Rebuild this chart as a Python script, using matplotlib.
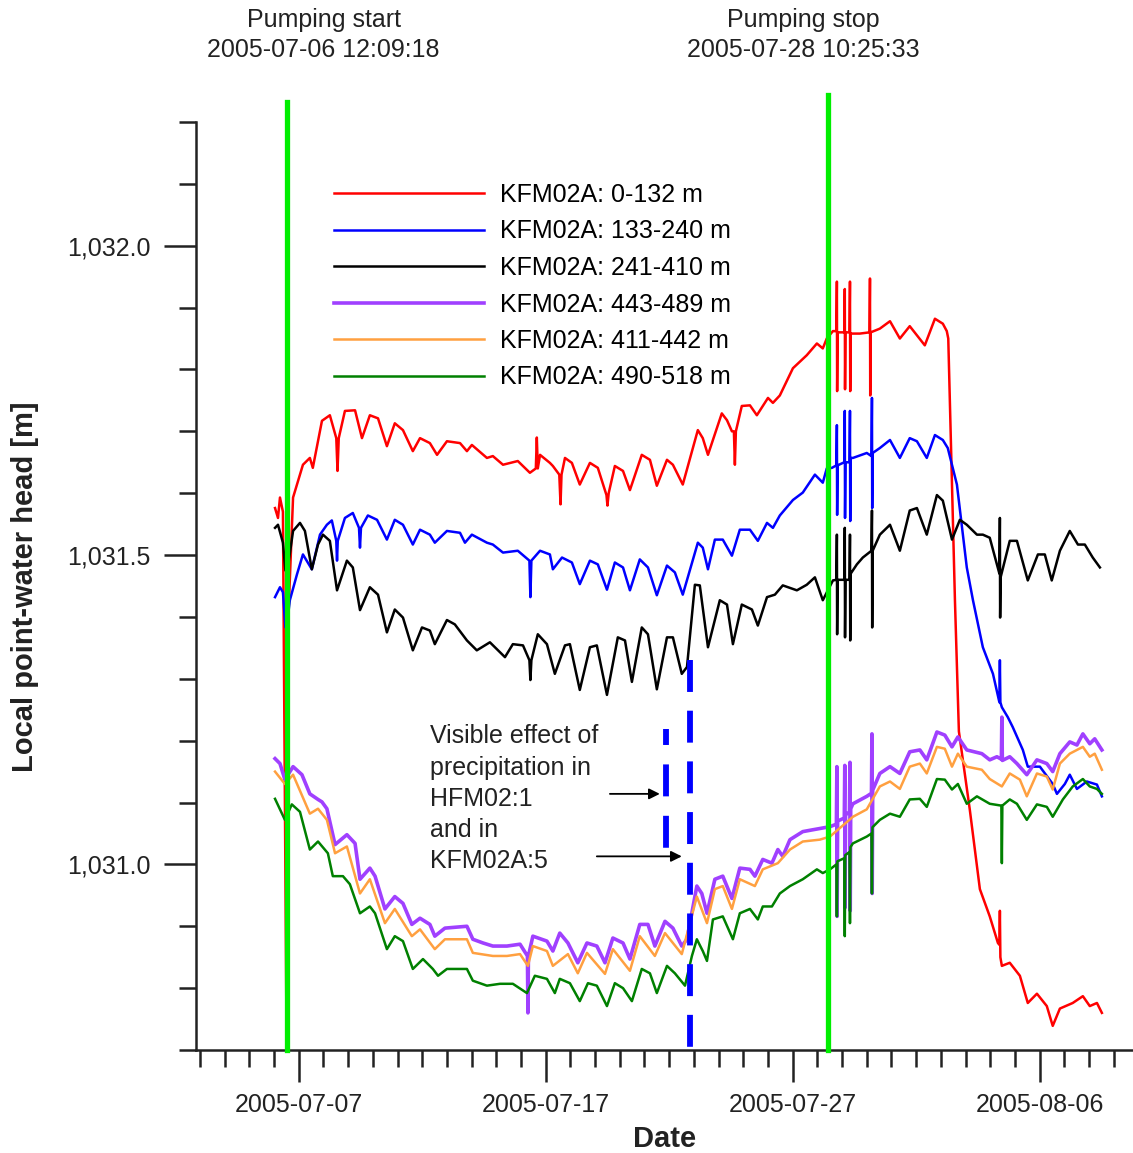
import numpy as np
import matplotlib.pyplot as plt
import matplotlib.dates as mdates
from matplotlib.ticker import MultipleLocator, FuncFormatter

plt.rcParams['font.family'] = ['Liberation Sans', 'DejaVu Sans']
plt.rcParams['lines.scale_dashes'] = False

# time axis: days after 2005-07-03 00:00
t0 = np.datetime64('2005-07-03T00:00:00')

pump_start = np.datetime64('2005-07-06T12:09:18')
pump_stop = np.datetime64('2005-07-28T10:25:33')
rain_hfm = np.datetime64('2005-07-21T20:50')   # HFM02:1
rain_kfm = np.datetime64('2005-07-22T20:10')   # KFM02A:5

labels = ["KFM02A: 0-132 m", "KFM02A: 133-240 m", "KFM02A: 241-410 m",
          "KFM02A: 443-489 m", "KFM02A: 411-442 m", "KFM02A: 490-518 m"]
colors = ["#ff0000", "#0000ff", "#000000", "#a040ff", "#ffa040", "#008000"]
widths = [1.8, 1.8, 1.8, 2.6, 1.8, 1.8]

# KFM02A: 0-132 m
red_days = [3.04, 3.16, 3.24, 3.36, 3.50, 3.58, 3.77, 4.17, 4.45, 4.57, 4.94, 5.26, 5.52, 5.57, 5.62,
            5.87, 6.28, 6.56, 6.88, 7.21, 7.57, 7.89, 8.22, 8.62, 8.91, 9.31, 9.60, 10.00, 10.53,
            10.81, 11.01, 11.62, 11.86, 12.27, 12.87, 13.36, 13.60, 13.64, 13.68, 13.77, 14.17,
            14.29, 14.55, 14.60, 14.64, 14.78, 15.06, 15.38, 15.79, 16.11, 16.46, 16.50, 16.55,
            16.80, 17.13, 17.41, 17.89, 18.22, 18.50, 18.91, 19.15, 19.55, 20.16, 20.36, 20.57,
            21.13, 21.34, 21.54, 21.62, 21.66, 21.70, 21.94, 22.27, 22.55, 23.00, 23.20, 23.48,
            24.01, 24.57, 24.98, 25.22, 25.38, 25.63, 25.77, 25.79, 25.80, 25.82, 26.09, 26.11,
            26.12, 26.14, 26.30, 26.32, 26.33, 26.35, 26.72, 27.11, 27.13, 27.14, 27.16, 27.53,
            27.94, 28.34, 28.74, 29.35, 29.76, 30.08, 30.24, 30.30, 30.57, 30.73, 31.17, 31.58,
            31.98, 32.31, 32.37, 32.39, 32.41, 32.47, 32.79, 33.20, 33.52, 33.89, 34.29, 34.53,
            34.82, 35.34, 35.75, 36.03, 36.32, 36.52]
red_head = [1031.576, 1031.560, 1031.593, 1031.570, 1030.750, 1031.400, 1031.593, 1031.646, 1031.657,
            1031.641, 1031.717, 1031.726, 1031.689, 1031.636, 1031.689, 1031.733, 1031.734, 1031.689,
            1031.726, 1031.721, 1031.676, 1031.713, 1031.702, 1031.668, 1031.689, 1031.681, 1031.662,
            1031.684, 1031.681, 1031.668, 1031.678, 1031.657, 1031.660, 1031.646, 1031.652, 1031.633,
            1031.640, 1031.690, 1031.640, 1031.662, 1031.649, 1031.644, 1031.630, 1031.582, 1031.630,
            1031.657, 1031.649, 1031.614, 1031.649, 1031.641, 1031.597, 1031.580, 1031.600, 1031.644,
            1031.636, 1031.605, 1031.662, 1031.654, 1031.612, 1031.654, 1031.646, 1031.614, 1031.702,
            1031.689, 1031.662, 1031.729, 1031.718, 1031.700, 1031.700, 1031.646, 1031.700, 1031.741,
            1031.742, 1031.726, 1031.754, 1031.746, 1031.758, 1031.802, 1031.823, 1031.842, 1031.834,
            1031.850, 1031.862, 1031.862, 1031.942, 1031.765, 1031.860, 1031.860, 1031.930, 1031.768,
            1031.860, 1031.860, 1031.942, 1031.765, 1031.858, 1031.858, 1031.860, 1031.947, 1031.758,
            1031.860, 1031.866, 1031.878, 1031.850, 1031.870, 1031.839, 1031.882, 1031.874, 1031.862,
            1031.850, 1031.427, 1031.215, 1031.089, 1030.960, 1030.916, 1030.873, 1030.870, 1030.925,
            1030.850, 1030.836, 1030.841, 1030.820, 1030.776, 1030.791, 1030.771, 1030.739, 1030.767,
            1030.776, 1030.787, 1030.771, 1030.776, 1030.760]

# KFM02A: 133-240 m
blue_days = [3.04, 3.24, 3.36, 3.46, 3.56, 3.64, 3.93, 4.17, 4.53, 4.86, 5.14, 5.34, 5.52, 5.55, 5.58,
             5.87, 6.19, 6.44, 6.48, 6.52, 6.80, 7.17, 7.57, 7.89, 8.22, 8.62, 8.91, 9.31, 9.51,
             10.00, 10.53, 10.73, 11.01, 11.62, 11.86, 12.27, 12.87, 13.34, 13.38, 13.42, 13.77,
             14.17, 14.29, 14.66, 15.06, 15.38, 15.79, 16.11, 16.48, 16.80, 17.13, 17.41, 17.81,
             18.14, 18.50, 18.91, 19.23, 19.55, 20.16, 20.36, 20.57, 20.85, 21.17, 21.54, 21.86,
             22.27, 22.59, 22.96, 23.20, 23.48, 24.01, 24.41, 24.90, 25.22, 25.38, 25.59, 25.77,
             25.79, 25.80, 25.82, 26.09, 26.11, 26.12, 26.14, 26.30, 26.32, 26.33, 26.35, 26.44,
             27.00, 27.19, 27.21, 27.22, 27.24, 27.53, 27.94, 28.34, 28.74, 29.03, 29.43, 29.76,
             30.08, 30.28, 30.65, 31.05, 31.30, 31.70, 32.11, 32.37, 32.39, 32.41, 32.47, 32.71,
             32.91, 33.32, 33.52, 34.01, 34.53, 34.70, 35.02, 35.22, 35.51, 35.91, 36.32, 36.52]
blue_head = [1031.432, 1031.448, 1031.440, 1031.383, 1031.400, 1031.427, 1031.469, 1031.501, 1031.477,
             1031.533, 1031.549, 1031.556, 1031.523, 1031.491, 1031.523, 1031.560, 1031.568, 1031.544,
             1031.512, 1031.544, 1031.564, 1031.557, 1031.525, 1031.557, 1031.549, 1031.517, 1031.541,
             1031.533, 1031.520, 1031.539, 1031.536, 1031.520, 1031.533, 1031.520, 1031.517, 1031.504,
             1031.507, 1031.491, 1031.432, 1031.491, 1031.507, 1031.501, 1031.477, 1031.496, 1031.488,
             1031.453, 1031.491, 1031.485, 1031.444, 1031.488, 1031.480, 1031.443, 1031.493, 1031.480,
             1031.435, 1031.483, 1031.472, 1031.436, 1031.520, 1031.512, 1031.477, 1031.525, 1031.525,
             1031.499, 1031.541, 1031.541, 1031.523, 1031.552, 1031.544, 1031.564, 1031.589, 1031.601,
             1031.630, 1031.617, 1031.640, 1031.641, 1031.645, 1031.710, 1031.565, 1031.645, 1031.650,
             1031.733, 1031.560, 1031.650, 1031.650, 1031.733, 1031.555, 1031.657, 1031.657, 1031.665,
             1031.660, 1031.754, 1031.576, 1031.665, 1031.673, 1031.686, 1031.657, 1031.689, 1031.684,
             1031.657, 1031.694, 1031.686, 1031.673, 1031.614, 1031.480, 1031.427, 1031.351, 1031.308,
             1031.262, 1031.330, 1031.262, 1031.254, 1031.238, 1031.222, 1031.185, 1031.158, 1031.158,
             1031.130, 1031.114, 1031.130, 1031.145, 1031.122, 1031.134, 1031.129, 1031.110]

# KFM02A: 241-410 m
black_days = [3.04, 3.16, 3.36, 3.46, 3.56, 3.77, 4.05, 4.25, 4.53, 4.78, 4.98, 5.26, 5.55, 5.95, 6.19,
              6.48, 6.88, 7.21, 7.57, 7.89, 8.22, 8.62, 8.99, 9.31, 9.51, 10.00, 10.32, 10.81, 11.21,
              11.74, 12.35, 12.67, 13.08, 13.34, 13.38, 13.42, 13.68, 14.05, 14.37, 14.78, 14.98,
              15.38, 15.79, 16.07, 16.48, 16.92, 17.21, 17.49, 17.89, 18.14, 18.50, 18.91, 19.15,
              19.51, 19.72, 20.04, 20.24, 20.57, 21.05, 21.34, 21.58, 21.94, 22.35, 22.59, 22.96,
              23.28, 23.60, 24.17, 24.57, 24.90, 25.22, 25.63, 25.77, 25.79, 25.80, 25.82, 26.09,
              26.11, 26.12, 26.14, 26.30, 26.32, 26.33, 26.35, 26.60, 26.84, 27.19, 27.21, 27.22,
              27.24, 27.53, 27.94, 28.34, 28.74, 29.03, 29.43, 29.84, 30.08, 30.45, 30.77, 31.05,
              31.46, 31.70, 31.98, 32.37, 32.39, 32.40, 32.42, 32.79, 33.08, 33.52, 33.93, 34.21,
              34.49, 34.82, 35.22, 35.55, 35.83, 36.15, 36.44]
black_head = [1031.544, 1031.549, 1031.520, 1031.475, 1031.480, 1031.539, 1031.552, 1031.539, 1031.477,
              1031.517, 1031.533, 1031.523, 1031.443, 1031.491, 1031.480, 1031.411, 1031.448, 1031.436,
              1031.375, 1031.412, 1031.399, 1031.346, 1031.383, 1031.378, 1031.356, 1031.395, 1031.388,
              1031.362, 1031.346, 1031.359, 1031.335, 1031.356, 1031.354, 1031.330, 1031.298, 1031.330,
              1031.372, 1031.356, 1031.308, 1031.354, 1031.356, 1031.282, 1031.351, 1031.354, 1031.274,
              1031.367, 1031.362, 1031.295, 1031.383, 1031.372, 1031.283, 1031.367, 1031.367, 1031.308,
              1031.319, 1031.452, 1031.451, 1031.351, 1031.427, 1031.420, 1031.356, 1031.420, 1031.412,
              1031.386, 1031.432, 1031.436, 1031.451, 1031.443, 1031.452, 1031.464, 1031.427, 1031.459,
              1031.460, 1031.533, 1031.372, 1031.460, 1031.460, 1031.544, 1031.367, 1031.460, 1031.460,
              1031.533, 1031.362, 1031.470, 1031.485, 1031.496, 1031.507, 1031.572, 1031.383, 1031.507,
              1031.533, 1031.549, 1031.507, 1031.572, 1031.576, 1031.533, 1031.597, 1031.588, 1031.525,
              1031.557, 1031.549, 1031.533, 1031.533, 1031.528, 1031.470, 1031.560, 1031.399, 1031.464,
              1031.523, 1031.523, 1031.459, 1031.501, 1031.501, 1031.459, 1031.507, 1031.539, 1031.517,
              1031.517, 1031.496, 1031.480]

# KFM02A: 443-489 m
purple_days = [3.04, 3.24, 3.44, 3.77, 4.13, 4.45, 4.78, 4.94, 5.14, 5.47, 5.95, 6.28, 6.48, 6.88, 7.09,
               7.49, 7.89, 8.22, 8.58, 8.91, 9.31, 9.51, 9.92, 10.81, 11.05, 11.46, 11.86, 12.43, 12.96,
               13.26, 13.28, 13.30, 13.48, 14.05, 14.29, 14.57, 14.90, 15.30, 15.67, 16.07, 16.40,
               16.72, 17.13, 17.41, 17.81, 18.14, 18.42, 18.83, 19.15, 19.51, 19.72, 20.12, 20.32,
               20.53, 20.85, 21.17, 21.54, 21.86, 22.27, 22.47, 22.79, 23.16, 23.40, 23.60, 23.89,
               24.41, 24.82, 25.10, 25.51, 25.77, 25.79, 25.80, 25.82, 26.09, 26.11, 26.12, 26.14,
               26.30, 26.32, 26.33, 26.35, 26.44, 27.00, 27.19, 27.21, 27.22, 27.24, 27.53, 27.94,
               28.34, 28.74, 29.15, 29.43, 29.84, 30.16, 30.45, 30.69, 31.05, 31.66, 31.98, 32.27,
               32.45, 32.47, 32.49, 32.79, 33.08, 33.48, 33.89, 34.29, 34.53, 34.82, 35.22, 35.51,
               35.75, 36.03, 36.23, 36.52]
purple_head = [1031.171, 1031.163, 1031.137, 1031.158, 1031.145, 1031.114, 1031.105, 1031.101, 1031.090,
               1031.032, 1031.048, 1031.034, 1030.976, 1030.994, 1030.981, 1030.928, 1030.948, 1030.937,
               1030.903, 1030.913, 1030.903, 1030.884, 1030.897, 1030.900, 1030.879, 1030.873, 1030.868,
               1030.868, 1030.871, 1030.852, 1030.760, 1030.852, 1030.884, 1030.876, 1030.860, 1030.889,
               1030.873, 1030.841, 1030.873, 1030.868, 1030.841, 1030.881, 1030.873, 1030.847, 1030.903,
               1030.903, 1030.868, 1030.908, 1030.897, 1030.868, 1030.879, 1030.965, 1030.953, 1030.921,
               1030.976, 1030.981, 1030.945, 1030.994, 1030.992, 1030.981, 1031.008, 1031.002, 1031.024,
               1031.013, 1031.040, 1031.053, 1031.056, 1031.058, 1031.061, 1031.065, 1031.158, 1030.916,
               1031.070, 1031.075, 1031.160, 1030.930, 1031.080, 1031.085, 1031.165, 1030.925, 1031.090,
               1031.098, 1031.110, 1031.115, 1031.211, 1030.953, 1031.120, 1031.147, 1031.158, 1031.147,
               1031.182, 1031.185, 1031.169, 1031.214, 1031.209, 1031.190, 1031.206, 1031.185, 1031.179,
               1031.169, 1031.174, 1031.170, 1031.238, 1031.168, 1031.174, 1031.163, 1031.145, 1031.169,
               1031.163, 1031.150, 1031.179, 1031.198, 1031.193, 1031.211, 1031.195, 1031.203, 1031.185]

# KFM02A: 411-442 m
orange_days = [3.04, 3.44, 3.77, 4.45, 4.78, 5.14, 5.47, 5.95, 6.48, 6.88, 7.49, 7.89, 8.58, 8.91, 9.51,
               9.92, 10.81, 11.05, 11.86, 12.43, 12.96, 13.28, 13.48, 14.05, 14.29, 14.90, 15.30, 15.67,
               16.40, 16.72, 17.41, 17.81, 18.42, 18.83, 19.51, 20.12, 20.53, 20.85, 21.17, 21.54,
               21.86, 22.47, 22.79, 23.40, 23.89, 24.41, 25.10, 25.51, 26.44, 27.00, 27.53, 27.94,
               28.34, 28.74, 29.15, 29.43, 29.84, 30.16, 30.45, 30.69, 31.05, 31.66, 31.98, 32.47,
               32.79, 33.20, 33.48, 33.89, 34.29, 34.53, 34.82, 35.22, 35.75, 36.03, 36.23, 36.52]
orange_head = [1031.150, 1031.130, 1031.145, 1031.082, 1031.090, 1031.072, 1031.018, 1031.029, 1030.953,
               1030.976, 1030.905, 1030.928, 1030.884, 1030.895, 1030.863, 1030.879, 1030.879, 1030.857,
               1030.852, 1030.852, 1030.855, 1030.836, 1030.868, 1030.860, 1030.836, 1030.855, 1030.824,
               1030.857, 1030.823, 1030.863, 1030.828, 1030.884, 1030.852, 1030.889, 1030.855, 1030.948,
               1030.905, 1030.960, 1030.965, 1030.928, 1030.976, 1030.965, 1030.992, 1031.002, 1031.024,
               1031.037, 1031.040, 1031.045, 1031.077, 1031.089, 1031.126, 1031.134, 1031.122, 1031.158,
               1031.163, 1031.147, 1031.190, 1031.187, 1031.158, 1031.179, 1031.158, 1031.153, 1031.138,
               1031.126, 1031.147, 1031.137, 1031.110, 1031.147, 1031.142, 1031.121, 1031.163, 1031.179,
               1031.190, 1031.174, 1031.179, 1031.153]

# KFM02A: 490-518 m
green_days = [3.04, 3.44, 3.72, 4.05, 4.45, 4.78, 5.18, 5.38, 5.79, 6.07, 6.48, 6.88, 7.09, 7.57, 7.89,
              8.22, 8.62, 9.03, 9.43, 9.64, 10.00, 10.81, 11.05, 11.62, 12.15, 12.67, 13.24, 13.56,
              14.05, 14.37, 14.57, 14.98, 15.38, 15.71, 16.07, 16.48, 16.80, 17.13, 17.49, 17.89,
              18.22, 18.50, 18.91, 19.23, 19.64, 19.92, 20.12, 20.36, 20.53, 20.77, 21.17, 21.58,
              21.86, 22.27, 22.59, 22.79, 23.16, 23.48, 23.89, 24.41, 24.98, 25.22, 25.51, 25.77,
              25.79, 25.81, 26.09, 26.11, 26.13, 26.30, 26.32, 26.34, 26.44, 27.00, 27.19, 27.21,
              27.23, 27.53, 27.94, 28.34, 28.74, 29.15, 29.43, 29.84, 30.16, 30.45, 30.69, 31.05,
              31.46, 31.98, 32.45, 32.47, 32.49, 32.79, 33.08, 33.48, 33.89, 34.29, 34.53, 34.94,
              35.34, 35.75, 36.03, 36.32, 36.52]
green_head = [1031.106, 1031.072, 1031.097, 1031.085, 1031.024, 1031.037, 1031.018, 1030.981, 1030.981,
              1030.968, 1030.921, 1030.932, 1030.921, 1030.863, 1030.884, 1030.876, 1030.831, 1030.847,
              1030.831, 1030.820, 1030.831, 1030.831, 1030.812, 1030.804, 1030.807, 1030.807, 1030.792,
              1030.820, 1030.815, 1030.792, 1030.815, 1030.808, 1030.779, 1030.808, 1030.804, 1030.771,
              1030.808, 1030.800, 1030.779, 1030.831, 1030.824, 1030.792, 1030.836, 1030.824, 1030.804,
              1030.852, 1030.879, 1030.860, 1030.844, 1030.911, 1030.916, 1030.879, 1030.921, 1030.928,
              1030.911, 1030.932, 1030.932, 1030.953, 1030.965, 1030.976, 1030.992, 1030.986, 1030.992,
              1031.000, 1030.916, 1031.005, 1031.010, 1030.884, 1031.015, 1031.020, 1030.905, 1031.028,
              1031.034, 1031.045, 1031.050, 1030.953, 1031.060, 1031.072, 1031.082, 1031.077, 1031.105,
              1031.106, 1031.093, 1031.138, 1031.137, 1031.121, 1031.130, 1031.098, 1031.110, 1031.098,
              1031.095, 1031.002, 1031.095, 1031.105, 1031.098, 1031.072, 1031.097, 1031.093, 1031.077,
              1031.105, 1031.126, 1031.138, 1031.126, 1031.122, 1031.114]

series = [(red_days, red_head), (blue_days, blue_head), (black_days, black_head),
          (purple_days, purple_head), (orange_days, orange_head), (green_days, green_head)]


def to_time(days):
    return t0 + (np.array(days) * 86400).astype('timedelta64[s]')


fig = plt.figure(figsize=(11.33, 11.53), dpi=100)
ax = fig.add_axes([196 / 1133, 103 / 1153, 937 / 1133, 928 / 1153])

handles = []
for (d, h), lab, c, w in zip(series, labels, colors, widths):
    ln, = ax.plot(to_time(d), h, color=c, lw=w, label=lab, zorder=2)
    handles.append(ln)

# pumping start / stop
for t, top in [(pump_start, 1032.232), (pump_stop, 1032.243)]:
    ax.plot([t, t], [top, 1030.70], color="#00ee00", lw=3.8, clip_on=False, zorder=4)

# precipitation markers
ax.plot([rain_hfm, rain_hfm], [1031.219, 1031.026], color="#0000ff", lw=4.2,
        ls=(11.5, (23, 14)), zorder=4)
ax.plot([rain_kfm, rain_kfm], [1031.330, 1030.70], color="#0000ff", lw=4.2,
        ls=(0, (23, 13.5)), zorder=4)

arrow = dict(arrowstyle="-|>", color="black", lw=1.3, mutation_scale=16, shrinkA=0, shrinkB=0)
ax.annotate("", xy=(to_time([18.62])[0], 1031.114), xytext=(to_time([16.60])[0], 1031.114),
            arrowprops=arrow, zorder=5)
ax.annotate("", xy=(to_time([19.51])[0], 1031.013), xytext=(to_time([16.07])[0], 1031.013),
            arrowprops=arrow, zorder=5)

ax.set_xlim(to_time([-0.16])[0], to_time([37.78])[0])
ax.set_ylim(1030.70, 1032.20)

ax.set_xticks(to_time([4, 14, 24, 34]))
ax.xaxis.set_major_formatter(mdates.DateFormatter('%Y-%m-%d'))
ax.xaxis.set_minor_locator(mdates.DayLocator())
ax.yaxis.set_major_locator(MultipleLocator(0.5))
ax.yaxis.set_minor_locator(MultipleLocator(0.1))
ax.yaxis.set_major_formatter(FuncFormatter(lambda v, p: f"{v:,.1f}"))

for s in ['top', 'right']:
    ax.spines[s].set_visible(False)
for s in ['left', 'bottom']:
    ax.spines[s].set_linewidth(1.8)
    ax.spines[s].set_color('#222222')

ax.tick_params(which='major', length=23, width=1.8, color='#222222', labelsize=18, labelcolor='#222222')
ax.tick_params(which='minor', length=12, width=1.8, color='#222222')
ax.tick_params(axis='y', which='major', pad=10)
ax.tick_params(axis='x', which='major', pad=8)

ax.legend(handles=handles, loc='upper left', bbox_to_anchor=(334 / 1133, 1 - 183 / 1153),
          bbox_transform=fig.transFigure, frameon=False, fontsize=18, handlelength=6.0,
          handletextpad=0.65, labelspacing=0.50, borderpad=0, borderaxespad=0)

ax.text(to_time([9.31])[0], 1031.106, "Visible effect of\nprecipitation in\nHFM02:1\nand in\nKFM02A:5",
        ha='left', va='center', fontsize=18, color='#222222', linespacing=1.38)

fig.text(324 / 1133, 1 - 20 / 1153, "Pumping start", ha='center', va='center', fontsize=18, color='#222222')
fig.text(323 / 1133, 1 - 50 / 1153, "2005-07-06 12:09:18", ha='center', va='center', fontsize=18, color='#222222')
fig.text(803 / 1133, 1 - 20 / 1153, "Pumping stop", ha='center', va='center', fontsize=18, color='#222222')
fig.text(803 / 1133, 1 - 50 / 1153, "2005-07-28 10:25:33", ha='center', va='center', fontsize=18, color='#222222')

fig.text(665 / 1133, 1 - 1139 / 1153, "Date", ha='center', va='center', fontsize=21, fontweight='bold', color='#222222')
fig.text(25 / 1133, 1 - 587 / 1153, "Local point-water head [m]", ha='center', va='center', rotation=90,
         fontsize=21, fontweight='bold', color='#222222')

fig.savefig('out.png', dpi=100)
